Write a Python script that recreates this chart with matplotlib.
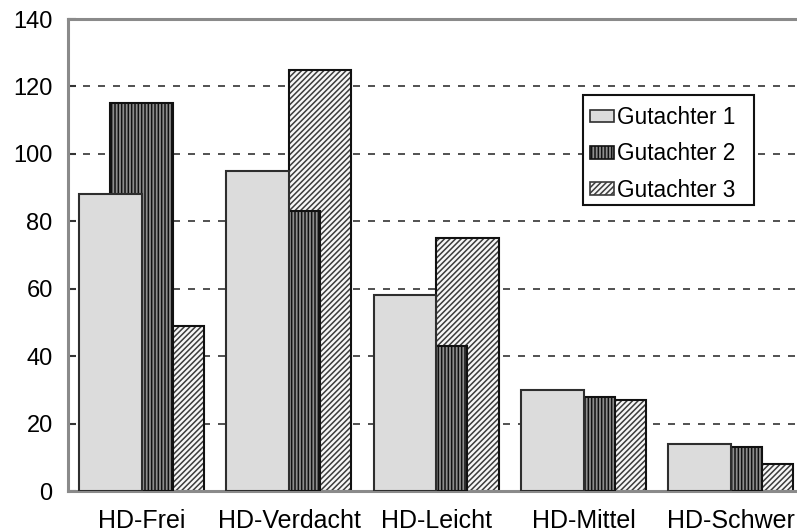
import matplotlib
matplotlib.use('Agg')
import matplotlib.pyplot as plt
import numpy as np
from matplotlib.patches import Patch, Rectangle

categories = ['HD-Frei', 'HD-Verdacht', 'HD-Leicht', 'HD-Mittel', 'HD-Schwer']
series_names = ['Gutachter 1', 'Gutachter 2', 'Gutachter 3']
gutachter1 = [88, 95, 58, 30, 14]
gutachter2 = [115, 83, 43, 28, 13]
gutachter3 = [49, 125, 75, 27, 8]
y_ticks = [0, 20, 40, 60, 80, 100, 120, 140]

plt.rcParams['font.family'] = ['Liberation Sans', 'DejaVu Sans']
plt.rcParams['hatch.linewidth'] = 1.1

fig = plt.figure(figsize=(7.97, 5.32), dpi=100)
ax = fig.add_axes([68 / 797, 1 - 491 / 532, 736.5 / 797, 472 / 532])

x = np.arange(len(categories))
w = 0.424
off = w / 2

styles = [
    dict(face='#dcdcdc', hatch=None, hcol='#dcdcdc', edge='#2e2e2e', z=3.0),
    dict(face='#8e8e8e', hatch='|||||', hcol='#111111', edge='#111111', z=2.6),
    dict(face='#f7f7f7', hatch='//////', hcol='#3c3c3c', edge='#111111', z=2.2),
]
series = [gutachter1, gutachter2, gutachter3]

for k, (vals, st) in enumerate(zip(series, styles)):
    pos = x + (k - 1) * off
    ax.bar(pos, vals, w, color=st['face'], hatch=st['hatch'], edgecolor=st['hcol'],
           linewidth=0, zorder=st['z'])
    ax.bar(pos, vals, w, fill=False, edgecolor=st['edge'], linewidth=1.5,
           zorder=st['z'] + 0.01)

ax.set_xlim(-0.5, 4.5)
ax.set_ylim(0, 140)
ax.set_axisbelow(True)
ax.yaxis.grid(True, color='#333333', linewidth=1.2, linestyle=(0, (4.2, 4.8)), zorder=0.5)

ax.set_yticks(y_ticks)
ax.set_yticklabels([str(t) for t in y_ticks])
ax.tick_params(axis='y', direction='in', length=6, width=1.5, color='#333333',
               pad=11, labelsize=17)

ax.set_xticks(x)
ax.set_xticklabels(categories)
ax.tick_params(axis='x', which='major', length=0, pad=13, labelsize=18)
ax.set_xticks(x - off, minor=True)
ax.tick_params(axis='x', which='minor', direction='in', length=3, width=1.5, color='#333333')

for s in ax.spines.values():
    s.set_color('#8a8a8a')
    s.set_linewidth(2.2)

# legend frame (white box) and contents
frame = Rectangle((582.7 / 797, 1 - 205 / 532), (754 - 582.7) / 797, 110 / 532,
                  transform=fig.transFigure, facecolor='white', edgecolor='#111111',
                  linewidth=1.5, zorder=9, clip_on=False)
ax.add_patch(frame)

handles = [Patch(facecolor=st['face'], edgecolor=st['edge'] if st['hatch'] is None else st['hcol'],
                 hatch=st['hatch'], linewidth=1.2) for st in styles]
leg = ax.legend(handles, series_names, loc='upper left',
                bbox_to_anchor=(590 / 797, 1 - 106 / 532), bbox_transform=fig.transFigure,
                borderaxespad=0, fontsize=16.3, handlelength=1.07, handleheight=0.5,
                handletextpad=0.12, labelspacing=0.59, borderpad=0, frameon=False)
leg.set_zorder(10)

fig.savefig('out.png', dpi=100)
